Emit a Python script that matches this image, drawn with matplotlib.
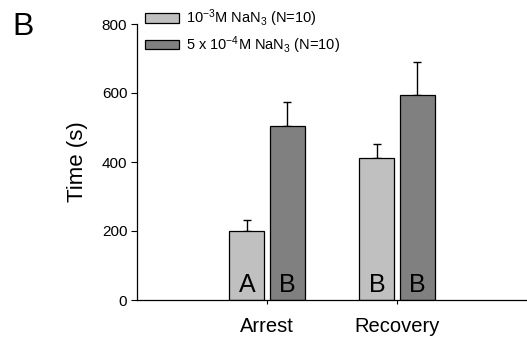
import numpy as np
import matplotlib
matplotlib.use('Agg')
import matplotlib.pyplot as plt

plt.rcParams['font.family'] = ['Liberation Sans', 'DejaVu Sans']
plt.rcParams['mathtext.fontset'] = 'custom'
plt.rcParams['mathtext.rm'] = 'Liberation Sans'
plt.rcParams['mathtext.it'] = 'Liberation Sans'
plt.rcParams['mathtext.default'] = 'regular'

# data
categories = ['Arrest', 'Recovery']
low_dose = [200, 411]          # 10^-3 M NaN3
low_err = [33, 40]
high_dose = [504, 595]         # 5 x 10^-4 M NaN3
high_err = [70, 94]
low_letters = ['A', 'B']
high_letters = ['B', 'B']
series_labels = ['10$^{-3}$M NaN$_3$ (N=10)', '5 x 10$^{-4}$M NaN$_3$ (N=10)']

fig = plt.figure(figsize=(5.27, 3.41), dpi=100)
ax = fig.add_axes([137/527, 41/341, 390/527, 276/341])

x = np.arange(1, len(categories) + 1)
w = 0.27
off = 0.155

ax.bar(x - off, low_dose, w, color='#c0c0c0', edgecolor='black', lw=0.9,
       label=series_labels[0], zorder=2)
ax.bar(x + off, high_dose, w, color='#808080', edgecolor='black', lw=0.9,
       label=series_labels[1], zorder=2)

# upper error bars only
ax.errorbar(x - off, low_dose, yerr=[np.zeros(2), low_err], fmt='none',
            ecolor='black', elinewidth=1, capsize=3, capthick=1, zorder=1)
ax.errorbar(x + off, high_dose, yerr=[np.zeros(2), high_err], fmt='none',
            ecolor='black', elinewidth=1, capsize=3, capthick=1, zorder=1)

# significance letters inside bars
for xi, l in zip(x - off, low_letters):
    ax.text(xi, 23, l, ha='center', va='baseline', fontsize=18, zorder=3)
for xi, l in zip(x + off, high_letters):
    ax.text(xi, 23, l, ha='center', va='baseline', fontsize=18, zorder=3)

ax.set_xlim(0, 3)
ax.set_ylim(0, 800)
ax.set_yticks([0, 200, 400, 600, 800])
ax.set_xticks(x)
ax.set_xticklabels(categories, fontsize=14.5)
ax.tick_params(axis='y', labelsize=11, length=4, width=0.8, direction='out', pad=3)
ax.tick_params(axis='x', length=3, width=0.8, pad=9)
ax.spines['top'].set_visible(False)
ax.spines['right'].set_visible(False)
ax.spines['left'].set_linewidth(0.9)
ax.spines['bottom'].set_linewidth(0.9)
ax.set_ylabel('Time (s)', fontsize=16, labelpad=10)

ax.legend(loc='upper left', bbox_to_anchor=(8/390, 1.06),
          frameon=False, fontsize=10.5, handlelength=2.3,
          handleheight=0.65, handletextpad=0.5, labelspacing=0.35,
          borderaxespad=0, borderpad=0)

fig.text(12/527, 1 - 35/341, 'B', fontsize=23)

fig.savefig('out.png', dpi=100)
